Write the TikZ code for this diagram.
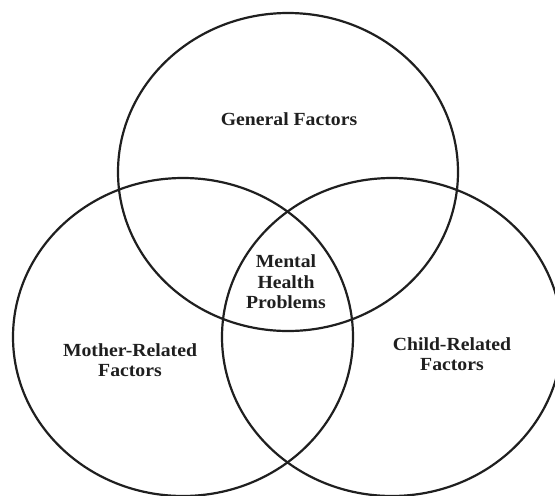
\documentclass[tikz,border=0pt]{standalone}
\usepackage{fontspec}
\setmainfont{Liberation Serif}
\usetikzlibrary{shapes.geometric}
\begin{document}
\begin{tikzpicture}[x=1pt,y=-1pt,
  venn/.style={ellipse, draw=black!88, line width=2.2pt, inner sep=0pt, minimum width=340pt, minimum height=318pt},
  lbl/.style={font=\bfseries\fontsize{18.5}{20.5}\selectfont, text=black!88, align=center, xscale=1.066, transform shape, inner sep=0pt}]
\useasboundingbox[fill=white] (0,0) rectangle (555,496);
\node[venn] (cG) at (288,172) {};
\node[venn] (cM) at (183,337) {};
\node[venn] (cC) at (392,337) {};
\node[lbl] (gen) at (289,119) {General Factors};
\node[lbl] (mhp) at (286,282) {Mental\\Health\\Problems};
\node[lbl] (mother) at (130,360) {Mother-Related\\Factors};
\node[lbl] (child) at (452,354) {Child-Related\\Factors};
\end{tikzpicture}
\end{document}
